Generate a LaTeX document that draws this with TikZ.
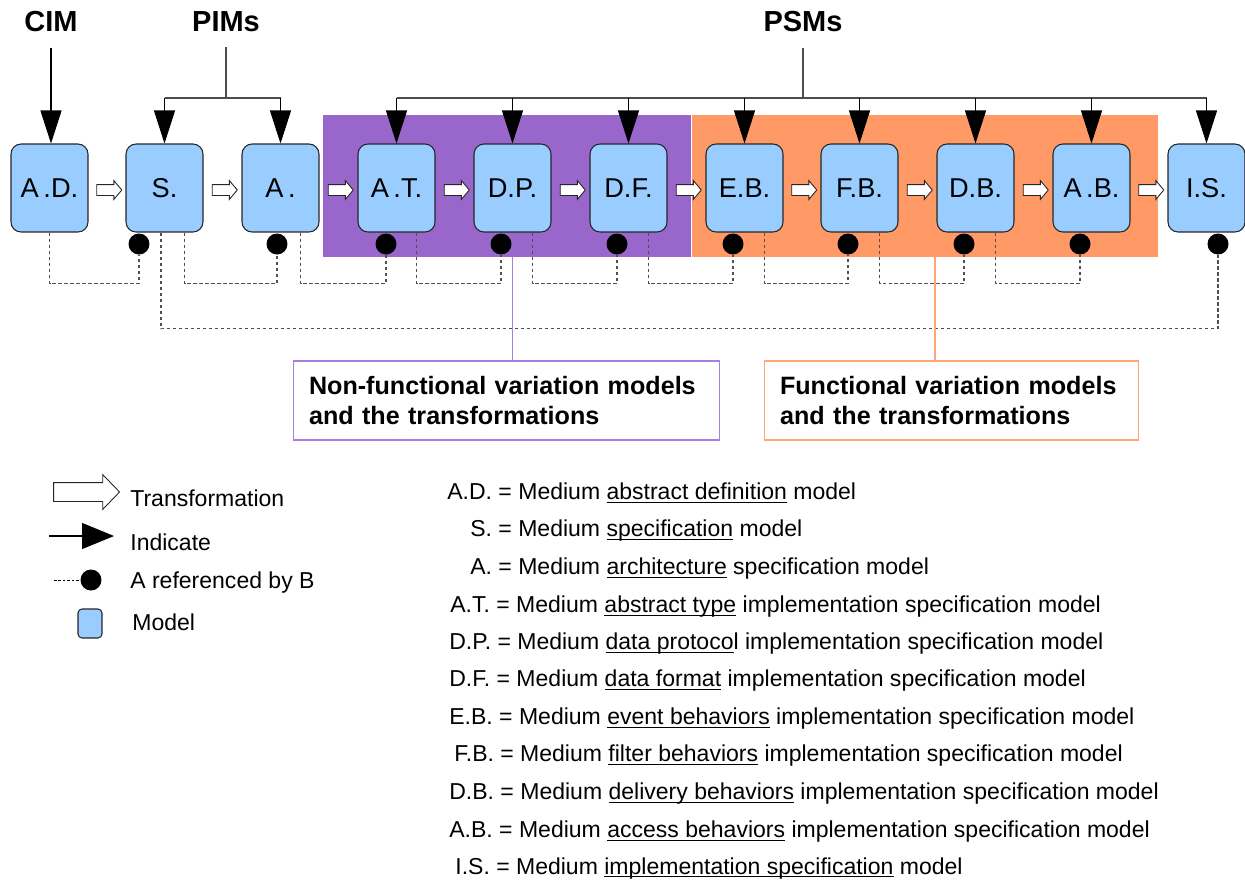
\documentclass[tikz,border=0pt]{standalone}
\usepackage{fontspec}
\setmainfont{Liberation Sans}
\usepackage{tikz}
\usetikzlibrary{arrows.meta}
\usetikzlibrary{shapes.arrows}
\usetikzlibrary{calc}
\definecolor{modelblue}{HTML}{99CCFF}
\definecolor{nfpurple}{HTML}{9966CC}
\definecolor{forange}{HTML}{FF9966}
\definecolor{nfline}{HTML}{A680DC}
\definecolor{fline}{HTML}{FFA577}
\definecolor{refgray}{HTML}{505050}
\newcommand{\termline}[1]{\underline{\smash{#1}}}
\tikzset{
model/.style={shape=rectangle, rounded corners=0.2cm, draw=black!85, fill=modelblue, line width=0.6pt, minimum width=1.54cm, minimum height=1.76cm, inner sep=0pt, font=\fontsize{15.5}{18}\selectfont},
refdot/.style={shape=circle, fill=black, minimum size=0.42cm, inner sep=0pt},
trans/.style={single arrow, draw=black!85, fill=white, line width=0.5pt, minimum height=0.5cm, inner xsep=0pt, inner ysep=0.1cm, single arrow head extend=0.08cm, single arrow tip angle=100},
indicate/.style={line width=0.6pt, -{Triangle[length=0.66cm, width=0.42cm]}},
bus/.style={draw=black!70, line width=0.9pt},
refline/.style={draw=refgray, line width=0.6pt, dash pattern=on 0.07cm off 0.05cm},
tier/.style={font=\fontsize{16.5}{20}\selectfont\bfseries, inner sep=0.3cm},
callout/.style={shape=rectangle, line width=0.6pt, fill=white, minimum height=1.58cm, inner xsep=0.32cm, align=left, font=\fontsize{14.3}{17}\selectfont\bfseries},
legtext/.style={anchor=base west, inner sep=0pt, font=\fontsize{13.1}{15}\selectfont},
}

\begin{document}
\begin{tikzpicture}[x=0.02cm, y=-0.02cm]
    \useasboundingbox (0,0) rectangle (1245,880);

    \node[fill=nfpurple, minimum width=7.36cm, minimum height=2.84cm, inner sep=0pt] (nfarea) at (507,186) {};
    \node[fill=forange, minimum width=9.32cm, minimum height=2.84cm, inner sep=0pt] (farea) at (925,186) {};

    \node[tier] (CIM) at (51,22) {CIM};
    \node[tier] (PIM) at (226,22) {PIMs};
    \node[tier] (PSM) at (803,22) {PSMs};
    \coordinate (pimj) at (226,98);
    \coordinate (psmj) at (803,98);

    \node[model] (AD) at (49.5,188) {A\,.D.};
    \node[model] (S) at (164.5,188) {S.};
    \node[model] (A) at (280.5,188) {A\,.};
    \node[model] (AT) at (396.5,188) {A\,.T.};
    \node[model] (DP) at (512.5,188) {D.P.};
    \node[model] (DF) at (628.5,188) {D.F.};
    \node[model] (EB) at (744.5,188) {E.B.};
    \node[model] (FB) at (859.5,188) {F.B.};
    \node[model] (DB) at (975.5,188) {D.B.};
    \node[model] (AB) at (1091.5,188) {A\,.B.};
    \node[model] (IS) at (1206.5,188) {I.S.};

    \node[refdot] (Sd) at (139,244) {};
    \node[refdot] (Ad) at (277,244) {};
    \node[refdot] (ATd) at (386,244) {};
    \node[refdot] (DPd) at (501,244) {};
    \node[refdot] (DFd) at (617,244) {};
    \node[refdot] (EBd) at (733,244) {};
    \node[refdot] (FBd) at (848,244) {};
    \node[refdot] (DBd) at (964,244) {};
    \node[refdot] (ABd) at (1080,244) {};
    \node[refdot] (ISd) at (1218,244) {};

    \foreach \a/\b in {AD/S, S/A, A/AT, AT/DP, DP/DF, DF/EB, EB/FB, FB/DB, DB/AB, AB/IS}
        \path (\a) -- (\b) node[midway, trans, yshift=-0.04cm] {};

    \draw[indicate] (CIM.south) -- (CIM.south |- AD.north);
    \draw[bus] (PIM.south) -- (pimj);
    \draw[bus] (S.north |- pimj) -- (A.north |- pimj);
    \draw[indicate] (S.north |- pimj) -- (S.north);
    \draw[indicate] (A.north |- pimj) -- (A.north);
    \draw[bus] (PSM.south) -- (psmj);
    \draw[bus] (AT.north |- psmj) -- (IS.north |- psmj);
    \foreach \m in {AT, DP, DF, EB, FB, DB, AB, IS}
        \draw[indicate] (\m.north |- psmj) -- (\m.north);

    \draw[refline] (AD.south) -- ++(0,51) -| (Sd.south);
    \draw[refline] ($(S.south)+(20,0)$) -- ++(0,51) -| (Ad.south);
    \draw[refline] ($(A.south)+(20,0)$) -- ++(0,51) -| (ATd.south);
    \draw[refline] ($(AT.south)+(20,0)$) -- ++(0,51) -| (DPd.south);
    \draw[refline] ($(DP.south)+(20,0)$) -- ++(0,51) -| (DFd.south);
    \draw[refline] ($(DF.south)+(20,0)$) -- ++(0,51) -| (EBd.south);
    \draw[refline] ($(EB.south)+(20,0)$) -- ++(0,51) -| (FBd.south);
    \draw[refline] ($(FB.south)+(20,0)$) -- ++(0,51) -| (DBd.south);
    \draw[refline] ($(DB.south)+(20,0)$) -- ++(0,51) -| (ABd.south);
    \draw[refline] ($(S.south)+(-3.5,0)$) -- ++(0,96) -| (ISd.south);

    \node[callout, draw=nfline, text width=7.9cm] (nfbox) at (506.5,400.5) {Non-functional variation models\\and the transformations};
    \node[callout, draw=fline, text width=6.86cm] (fbox) at (951.5,400.5) {Functional variation models\\and the transformations};
    \draw[nfline, line width=0.6pt] (DP.south |- nfarea.south) -- (DP.south |- nfbox.north);
    \draw[fline, line width=0.6pt] ([xshift=0.2cm]farea.south) -- ([xshift=0.2cm]farea.south |- fbox.north);

    \node[trans, minimum height=1.32cm, inner ysep=0.18cm, single arrow head extend=0.16cm, single arrow tip angle=92] (transleg) at (82,492) {};
    \node[legtext] (transtxt) at (130,506.5) {Transformation};
    \coordinate (indfrom) at (49,536);
    \coordinate (indto) at (114,536);
    \draw[line width=0.6pt, -{Triangle[length=0.64cm, width=0.52cm]}] (indfrom) -- (indto);
    \node[legtext] (indtxt) at (130,550) {Indicate};
    \node[refdot] (refleg) at (91,580) {};
    \coordinate (reffrom) at (54,580);
    \draw[line width=0.5pt, dash pattern=on 0.05cm off 0.04cm] (reffrom) -- (refleg.west);
    \node[legtext] (reftxt) at (130,588) {A referenced by B};
    \node[model, minimum width=0.48cm, minimum height=0.58cm, rounded corners=0.08cm] (modelleg) at (90,623.5) {};
    \node[legtext] (modeltxt) at (132,630) {Model};

    \node[legtext] (defAD) at (447,499.5) {A.D. = Medium \termline{abstract definition} model};
    \node[legtext] (defS) at (470,536.5) {S. = Medium \termline{specification} model};
    \node[legtext] (defA) at (470,574.5) {A. = Medium \termline{architecture} specification model};
    \node[legtext] (defAT) at (450,612.5) {A.T. = Medium \termline{abstract type} implementation specification model};
    \node[legtext] (defDP) at (449,649.5) {D.P. = Medium \termline{data protoco}l implementation specification model};
    \node[legtext] (defDF) at (449,686.5) {D.F. = Medium \termline{data format} implementation specification model};
    \node[legtext] (defEB) at (449,724.5) {E.B. = Medium \termline{event behaviors} implementation specification model};
    \node[legtext] (defFB) at (454,761.5) {F.B. = Medium \termline{filter behaviors} implementation specification model};
    \node[legtext] (defDB) at (449,799.5) {D.B. = Medium \termline{delivery behaviors} implementation specification model};
    \node[legtext] (defAB) at (449,837.5) {A.B. = Medium \termline{access behaviors} implementation specification model};
    \node[legtext] (defIS) at (455,874) {I.S. = Medium \termline{implementation specification} model};

\end{tikzpicture}
\end{document}
